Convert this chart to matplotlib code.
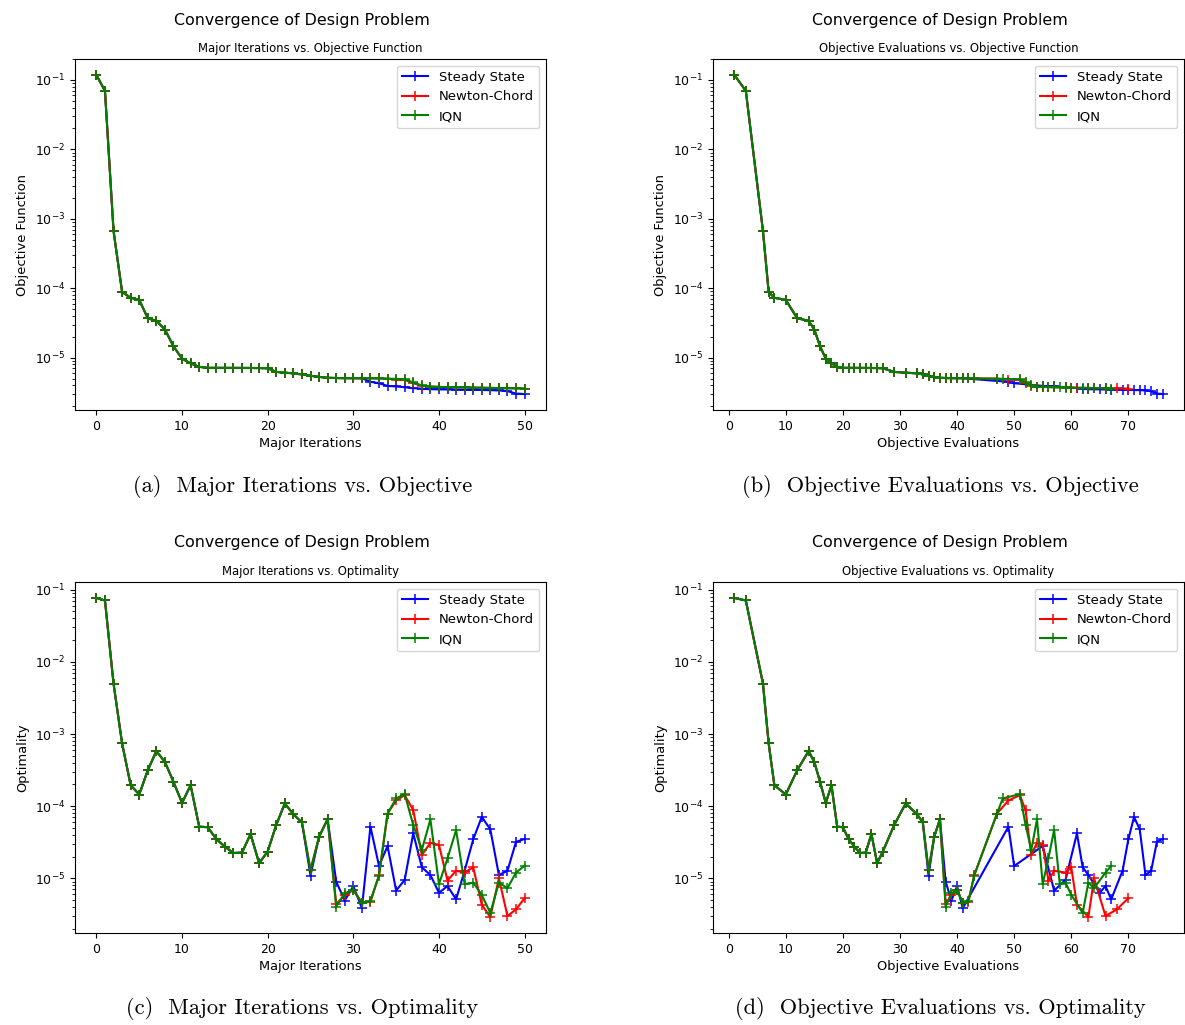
import matplotlib
matplotlib.use("Agg")
import matplotlib.pyplot as plt
import numpy as np

# ---------------- data ----------------
iterations = list(range(51))

# objective-evaluation counts at each major iteration
evals_common = [1, 3, 6, 7, 8, 10, 12, 14, 15, 16, 17, 18, 19, 20, 21, 22, 23, 24,
                25, 26, 27, 29, 31, 33, 34, 35, 36, 37]
evals_ss = evals_common + [38, 39, 40, 41, 49, 50, 55, 57, 59, 61, 62, 63, 65, 66,
                           67, 69, 70, 71, 72, 73, 74, 75, 76]
evals_nc = evals_common + [38, 39, 40, 41, 42, 43, 47, 49, 51, 52, 53, 54, 55, 56,
                           57, 59, 60, 61, 63, 64, 66, 68, 70]
evals_iqn = evals_common + [38, 39, 40, 41, 42, 43, 47, 48, 51, 52, 53, 54, 55, 56,
                            57, 58, 59, 60, 62, 63, 64, 66, 67]

obj_common = [0.118, 0.0695, 6.7e-4, 8.85e-5, 7.3e-5, 6.8e-5, 3.7e-5, 3.4e-5, 2.55e-5,
              1.46e-5, 9.7e-6, 8.3e-6, 7.4e-6, 7.15e-6, 7.15e-6, 7.14e-6, 7.14e-6,
              7.13e-6, 7.12e-6, 7.1e-6, 7.05e-6, 6.25e-6, 6.1e-6, 5.95e-6, 5.75e-6,
              5.5e-6, 5.3e-6, 5.15e-6, 5.1e-6, 5.08e-6, 5.07e-6, 5.06e-6]
obj_ss = obj_common + [4.5e-6, 4.3e-6, 3.93e-6, 3.86e-6, 3.76e-6, 3.65e-6, 3.58e-6,
                       3.52e-6, 3.5e-6, 3.49e-6, 3.48e-6, 3.47e-6, 3.45e-6, 3.43e-6,
                       3.41e-6, 3.38e-6, 3.3e-6, 3.05e-6, 3.0e-6]
obj_nc = obj_common + [5.05e-6, 5.03e-6, 5.0e-6, 4.85e-6, 4.8e-6, 4.3e-6, 3.95e-6,
                       3.85e-6, 3.8e-6, 3.78e-6, 3.76e-6, 3.74e-6, 3.72e-6, 3.7e-6,
                       3.68e-6, 3.66e-6, 3.64e-6, 3.62e-6, 3.6e-6]
obj_iqn = obj_common + [5.05e-6, 5.03e-6, 5.0e-6, 4.95e-6, 4.9e-6, 4.4e-6, 4.0e-6,
                        3.85e-6, 3.8e-6, 3.78e-6, 3.76e-6, 3.74e-6, 3.72e-6, 3.7e-6,
                        3.68e-6, 3.66e-6, 3.64e-6, 3.62e-6, 3.6e-6]

opt_common = [0.077, 0.071, 5.0e-3, 7.4e-4, 1.95e-4, 1.45e-4, 3.15e-4, 5.8e-4, 4.1e-4,
              2.17e-4, 1.11e-4, 1.95e-4, 5.2e-5, 5.1e-5, 3.5e-5, 2.75e-5, 2.24e-5,
              2.27e-5, 4.1e-5, 1.62e-5, 2.35e-5, 5.5e-5, 1.09e-4, 7.7e-5, 5.95e-5]
opt_ss = opt_common + [1.09e-5, 3.77e-5, 6.6e-5, 9.0e-6, 4.9e-6, 7.8e-6, 3.85e-6,
                       5.2e-5, 1.48e-5, 2.8e-5, 6.75e-6, 9.5e-6, 4.2e-5, 1.42e-5,
                       1.11e-5, 6.3e-6, 7.8e-6, 5.1e-6, 1.28e-5, 3.46e-5, 7.1e-5,
                       4.76e-5, 1.11e-5, 1.27e-5, 3.2e-5, 3.5e-5]
opt_nc = opt_common + [1.3e-5, 3.77e-5, 6.6e-5, 4.4e-6, 5.8e-6, 6.9e-6, 4.6e-6,
                       4.7e-6, 1.1e-5, 7.9e-5, 1.2e-4, 1.42e-4, 8.8e-5, 2.1e-5,
                       3.1e-5, 2.9e-5, 9.3e-6, 1.27e-5, 1.2e-5, 1.42e-5, 4.3e-6,
                       2.9e-6, 1.0e-5, 3.0e-6, 3.7e-6, 5.3e-6]
opt_iqn = opt_common + [1.3e-5, 3.77e-5, 6.6e-5, 4.05e-6, 6.2e-6, 6.9e-6, 4.5e-6,
                        4.9e-6, 1.09e-5, 7.9e-5, 1.28e-4, 1.47e-4, 5.46e-5, 2.47e-5,
                        6.55e-5, 8.3e-6, 1.89e-5, 4.65e-5, 8.3e-6, 8.7e-6, 5.9e-6,
                        3.3e-6, 8.7e-6, 7.3e-6, 1.2e-5, 1.49e-5]

labels = ["Steady State", "Newton-Chord", "IQN"]
colors = ["blue", "red", "green"]

suptitle = "Convergence of Design Problem"
panels = [
    dict(x=[iterations] * 3, y=[obj_ss, obj_nc, obj_iqn],
         sub="Major Iterations vs. Objective Function",
         xlabel="Major Iterations", ylabel="Objective Function",
         xticks=[0, 10, 20, 30, 40, 50],
         caption="(a)  Major Iterations vs. Objective"),
    dict(x=[evals_ss, evals_nc, evals_iqn], y=[obj_ss, obj_nc, obj_iqn],
         sub="Objective Evaluations vs. Objective Function",
         xlabel="Objective Evaluations", ylabel="Objective Function",
         xticks=[0, 10, 20, 30, 40, 50, 60, 70],
         caption="(b)  Objective Evaluations vs. Objective"),
    dict(x=[iterations] * 3, y=[opt_ss, opt_nc, opt_iqn],
         sub="Major Iterations vs. Optimality",
         xlabel="Major Iterations", ylabel="Optimality",
         xticks=[0, 10, 20, 30, 40, 50],
         caption="(c)  Major Iterations vs. Optimality"),
    dict(x=[evals_ss, evals_nc, evals_iqn], y=[opt_ss, opt_nc, opt_iqn],
         sub="Objective Evaluations vs. Optimality",
         xlabel="Objective Evaluations", ylabel="Optimality",
         xticks=[0, 10, 20, 30, 40, 50, 60, 70],
         caption="(d)  Objective Evaluations vs. Optimality"),
]

# ---------------- layout (pixels) ----------------
W, H = 1185, 1025
fig = plt.figure(figsize=(W / 100, H / 100), dpi=100)
fig.patch.set_facecolor("white")

boxes = [(75, 59, 546, 410), (713, 59, 1184, 410),
         (75, 582, 546, 933), (713, 582, 1184, 933)]
title_y = [20, 20, 543, 543]
caption_y = [487, 487, 1008, 1008]

for p, (l, t, r, b), ty, cy in zip(panels, boxes, title_y, caption_y):
    ax = fig.add_axes([l / W, 1 - b / H, (r - l) / W, (b - t) / H])
    for xs, ys, lab, c in zip(p["x"], p["y"], labels, colors):
        ax.plot(xs, ys, marker="+", color=c, label=lab, lw=1.5, ms=6.5, mew=1.1)
    ax.set_yscale("log")
    ax.set_xticks(p["xticks"])
    ax.tick_params(axis="both", which="major", labelsize=9)
    ax.set_xlabel(p["xlabel"], fontsize=9.4, labelpad=3)
    ax.set_ylabel(p["ylabel"], fontsize=9.4)
    ax.set_title(p["sub"], fontsize=8.4, pad=5)
    ax.legend(loc="upper right", fontsize=9.5)
    cx = (l + r) / 2
    fig.text((cx - 9) / W, 1 - ty / H, suptitle, ha="center", va="center", fontsize=11.4)
    fig.text((cx - 8) / W, 1 - cy / H, p["caption"], ha="center", va="center",
             fontsize=16.2, family="cmr10")

fig.savefig("out.png", dpi=100)
